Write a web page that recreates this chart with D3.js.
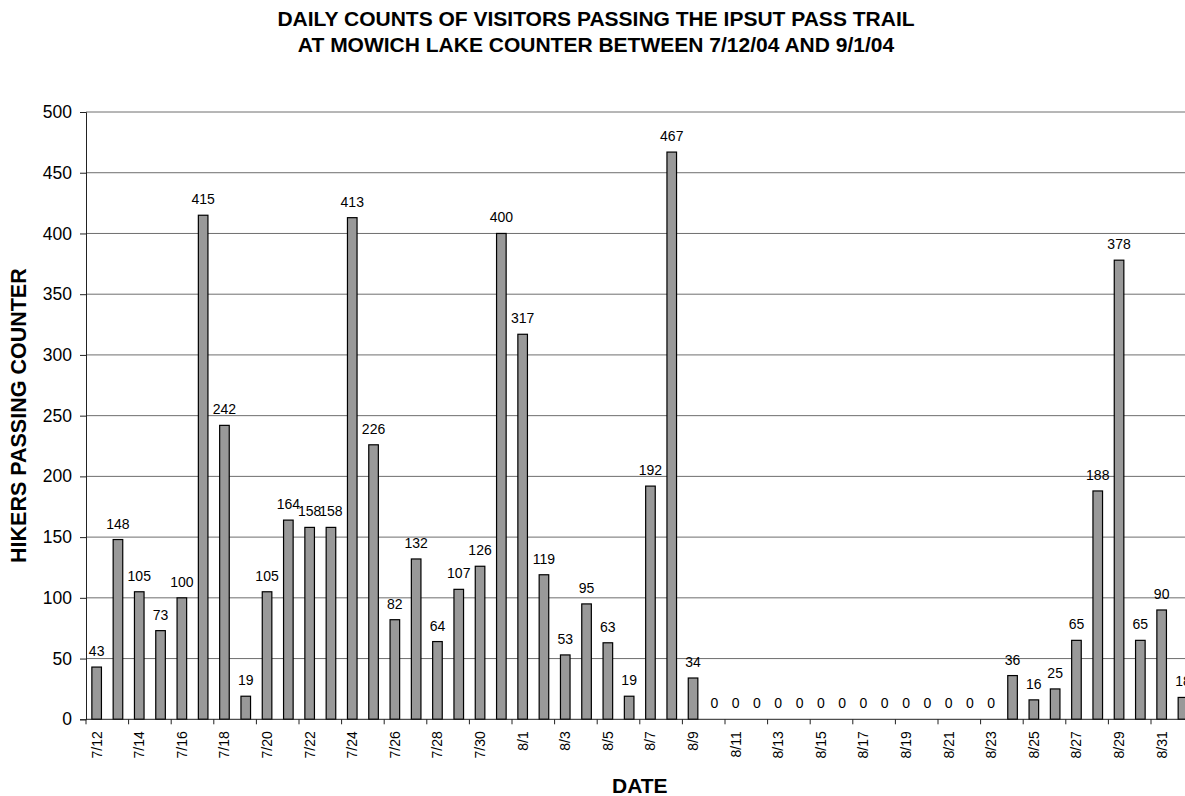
<!DOCTYPE html>
<html>
<head>
<meta charset="utf-8">
<script src="https://cdn.jsdelivr.net/npm/d3@7"></script>
<style>
  html, body { margin: 0; padding: 0; background: #fff; overflow: hidden; }
  svg { display: block; font-family: "Liberation Sans", Arial, Helvetica, sans-serif; }
</style>
</head>
<body>
<svg id="chart" width="1185" height="796"></svg>
<script>
// Daily visitor counts, Ipsut Pass trail (Mowich Lake counter)
const dates = [
  "7/12","7/13","7/14","7/15","7/16","7/17","7/18","7/19","7/20","7/21",
  "7/22","7/23","7/24","7/25","7/26","7/27","7/28","7/29","7/30","7/31",
  "8/1","8/2","8/3","8/4","8/5","8/6","8/7","8/8","8/9","8/10",
  "8/11","8/12","8/13","8/14","8/15","8/16","8/17","8/18","8/19","8/20",
  "8/21","8/22","8/23","8/24","8/25","8/26","8/27","8/28","8/29","8/30",
  "8/31","9/1"
];
const hikers = [
  43, 148, 105, 73, 100, 415, 242, 19, 105, 164,
  158, 158, 413, 226, 82, 132, 64, 107, 126, 400,
  317, 119, 53, 95, 63, 19, 192, 467, 34, 0,
  0, 0, 0, 0, 0, 0, 0, 0, 0, 0,
  0, 0, 0, 36, 16, 25, 65, 188, 378, 65,
  90, 18
];
const yTicks = [0, 50, 100, 150, 200, 250, 300, 350, 400, 450, 500];
const titleLines = [
  "DAILY COUNTS OF VISITORS PASSING THE IPSUT PASS TRAIL",
  "AT MOWICH LAKE COUNTER BETWEEN 7/12/04 AND 9/1/04"
];
const yTitle = "HIKERS PASSING COUNTER";
const xTitle = "DATE";

const svg = d3.select("#chart");
const plot = { left: 86, top: 112, bottom: 719.3, step: 21.3 };
plot.right = plot.left + plot.step * dates.length;

const x = d3.scaleBand()
  .domain(dates)
  .range([plot.left, plot.right])
  .paddingInner(0.55)
  .paddingOuter(0.275);

const y = d3.scaleLinear()
  .domain([0, 500])
  .range([plot.bottom, plot.top]);

// horizontal gridlines
svg.append("g")
  .selectAll("line")
  .data(yTicks.filter(t => t > 0))
  .join("line")
  .attr("x1", plot.left).attr("x2", plot.right)
  .attr("y1", d => y(d)).attr("y2", d => y(d))
  .attr("stroke", "#6e6e6e")
  .attr("stroke-width", 1);

// y axis
const yAxis = svg.append("g")
  .attr("transform", `translate(${plot.left},0)`)
  .call(d3.axisLeft(y).tickValues(yTicks).tickSize(6).tickPadding(8).tickFormat(d3.format("d")));
yAxis.select(".domain").attr("stroke", "#222");
yAxis.selectAll(".tick line").attr("stroke", "#222");
yAxis.selectAll(".tick text")
  .attr("font-size", 17.5)
  .attr("font-family", null)
  .attr("fill", "#000");

// bars
svg.append("g")
  .selectAll("rect")
  .data(dates.map((d, i) => ({ date: d, value: hikers[i] })))
  .join("rect")
  .attr("x", d => x(d.date))
  .attr("width", x.bandwidth())
  .attr("y", d => y(d.value))
  .attr("height", d => y(0) - y(d.value))
  .attr("fill", "#999999")
  .attr("stroke", "#000")
  .attr("stroke-width", 1.2);

// x axis baseline and ticks every second day
const xg = svg.append("g");
xg.append("line")
  .attr("x1", plot.left).attr("x2", plot.right)
  .attr("y1", y(0)).attr("y2", y(0))
  .attr("stroke", "#222");
const labelled = dates.filter((d, i) => i % 2 === 0);
xg.selectAll("line.tick")
  .data(labelled)
  .join("line")
  .attr("class", "tick")
  .attr("x1", d => x(d) - x.step() * x.paddingOuter())
  .attr("x2", d => x(d) - x.step() * x.paddingOuter())
  .attr("y1", y(0)).attr("y2", y(0) + 5)
  .attr("stroke", "#222");
xg.selectAll("text")
  .data(labelled)
  .join("text")
  .attr("transform", d => `translate(${x(d) + x.bandwidth() / 2},${y(0) + 12}) rotate(-90)`)
  .attr("text-anchor", "end")
  .attr("dy", "0.35em")
  .attr("font-size", 14)
  .text(d => d);

// value labels
svg.append("g")
  .selectAll("text")
  .data(dates.map((d, i) => ({ date: d, value: hikers[i] })))
  .join("text")
  .attr("x", d => x(d.date) + x.bandwidth() / 2)
  .attr("y", d => y(d.value) - 11)
  .attr("text-anchor", "middle")
  .attr("font-size", 14)
  .text(d => d.value);

// titles
svg.append("g")
  .selectAll("text")
  .data(titleLines)
  .join("text")
  .attr("x", 596)
  .attr("y", (d, i) => 26 + i * 26)
  .attr("text-anchor", "middle")
  .attr("font-size", 21)
  .attr("font-weight", "bold")
  .text(d => d);

svg.append("text")
  .attr("transform", `translate(26,${(plot.top + plot.bottom) / 2}) rotate(-90)`)
  .attr("text-anchor", "middle")
  .attr("font-size", 21.5)
  .attr("font-weight", "bold")
  .text(yTitle);

svg.append("text")
  .attr("x", (plot.left + plot.right) / 2)
  .attr("y", 793)
  .attr("text-anchor", "middle")
  .attr("font-size", 21)
  .attr("font-weight", "bold")
  .text(xTitle);
</script>
</body>
</html>
